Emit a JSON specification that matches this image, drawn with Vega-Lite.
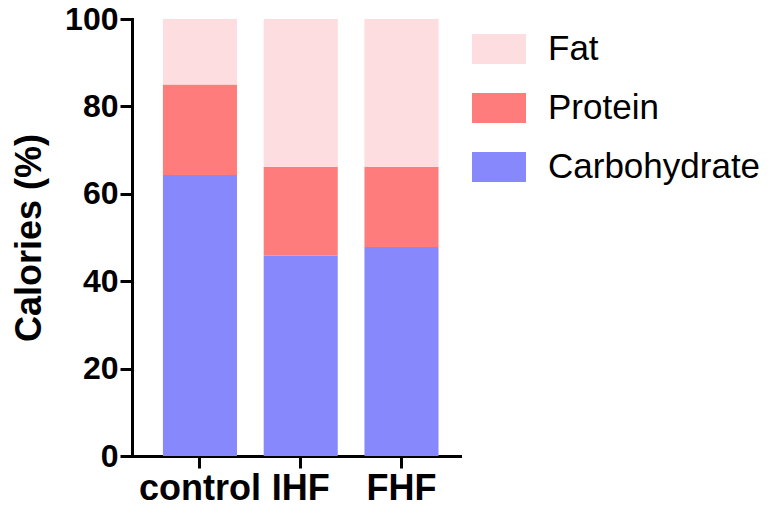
{
  "$schema": "https://vega.github.io/schema/vega-lite/v6.json",
  "autosize": "none",
  "width": 328,
  "height": 437,
  "padding": {"left": 132, "top": 19, "right": 314, "bottom": 61},
  "background": "white",
  "data": {
    "values": [
      {"diet": "control", "nutrient": "Carbohydrate", "value": 64.3, "ord": 1},
      {"diet": "control", "nutrient": "Protein", "value": 20.7, "ord": 2},
      {"diet": "control", "nutrient": "Fat", "value": 15.0, "ord": 3},
      {"diet": "IHF", "nutrient": "Carbohydrate", "value": 45.8, "ord": 1},
      {"diet": "IHF", "nutrient": "Protein", "value": 20.4, "ord": 2},
      {"diet": "IHF", "nutrient": "Fat", "value": 33.8, "ord": 3},
      {"diet": "FHF", "nutrient": "Carbohydrate", "value": 47.8, "ord": 1},
      {"diet": "FHF", "nutrient": "Protein", "value": 18.4, "ord": 2},
      {"diet": "FHF", "nutrient": "Fat", "value": 33.8, "ord": 3}
    ]
  },
  "mark": {"type": "bar"},
  "encoding": {
    "x": {
      "field": "diet",
      "type": "nominal",
      "sort": ["control", "IHF", "FHF"],
      "scale": {"paddingInner": 0.265, "paddingOuter": 0.26, "align": 0.59},
      "axis": {
        "title": null,
        "labelAngle": 0,
        "labelFont": "Liberation Sans",
        "labelFontWeight": "bold",
        "labelFontSize": 36,
        "labelColor": "black",
        "labelPadding": 3,
        "domainColor": "black",
        "domainWidth": 3,
        "tickColor": "black",
        "tickWidth": 3,
        "tickSize": 12
      }
    },
    "y": {
      "field": "value",
      "type": "quantitative",
      "stack": "zero",
      "scale": {"domain": [0, 100], "nice": false},
      "axis": {
        "title": "Calories (%)",
        "values": [0, 20, 40, 60, 80, 100],
        "grid": false,
        "titleFont": "Liberation Sans",
        "titleFontWeight": "bold",
        "titleFontSize": 36,
        "titleColor": "black",
        "titlePadding": 16,
        "labelFont": "Liberation Sans",
        "labelFontWeight": "bold",
        "labelFontSize": 32,
        "labelColor": "black",
        "labelPadding": 2,
        "domainColor": "black",
        "domainWidth": 3,
        "tickColor": "black",
        "tickWidth": 3,
        "tickSize": 12
      }
    },
    "color": {
      "field": "nutrient",
      "type": "nominal",
      "scale": {
        "domain": ["Fat", "Protein", "Carbohydrate"],
        "range": ["#FDDDDF", "#FF7C7C", "#8888FD"]
      },
      "legend": {
        "title": null,
        "orient": "none",
        "legendX": 340,
        "legendY": 3,
        "padding": 0,
        "symbolType": "M-1,-0.556H1V0.556H-1Z",
        "symbolSize": 2916,
        "symbolStrokeWidth": 0,
        "symbolOpacity": 1,
        "rowPadding": 14,
        "labelOffset": 22,
        "labelFont": "Liberation Sans",
        "labelFontSize": 35,
        "labelColor": "black",
        "labelLimit": 300
      }
    },
    "order": {"field": "ord", "type": "quantitative"}
  },
  "config": {"view": {"stroke": null}, "axis": {"domainCap": "square"}}
}
